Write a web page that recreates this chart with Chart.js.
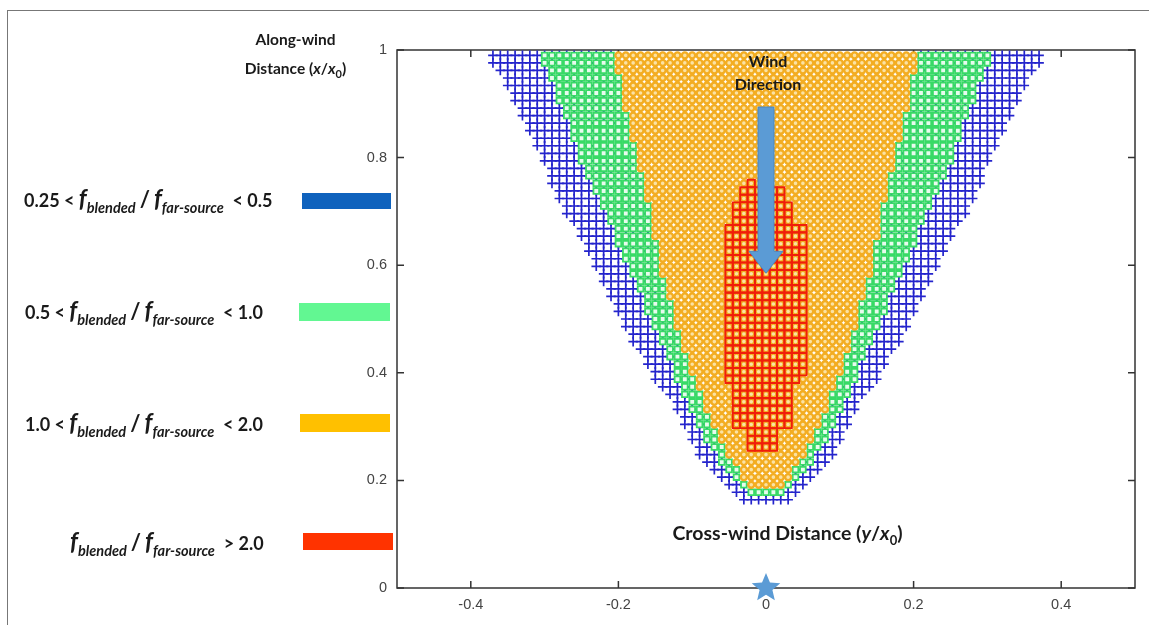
<!DOCTYPE html>
<html>
<head>
<meta charset="utf-8">
<script src="https://cdn.jsdelivr.net/npm/chart.js@4.4.0/dist/chart.umd.min.js"></script>
<style>
html, body { margin: 0; padding: 0; background: #fff; }
#wrap { position: relative; width: 1149px; height: 625px; overflow: hidden; }
#frame { position: absolute; left: 7px; top: 10px; right: -5px; bottom: -5px; border-left: 1px solid #777; border-top: 1px solid #777; }
#myChart { position: absolute; left: 0; top: 0; }
.lbl { position: absolute; font-family: Lato, "Open Sans", sans-serif; font-weight: bold; color: #1a1a1a; white-space: nowrap; }
.leg { font-size: 18px; line-height: 26px; }
.leg .f { font-size: 24px; font-style: italic; }
.leg sub { font-size: 14.5px; font-style: italic; vertical-align: -6px; line-height: 0; }
.leg .sl { font-size: 22px; padding: 0 4px; }
.sw { position: absolute; }
</style>
</head>
<body>
<div id="wrap">
  <div id="frame"></div>
  <canvas id="myChart" width="1149" height="625"></canvas>

  <div class="lbl" style="left:228px; top:25px; width:135px; text-align:center; font-size:15.5px; line-height:29px;">Along-wind<br>Distance (<i>x</i>/<i>x</i><sub style="font-size:11px;">0</sub>)</div>
  <div class="lbl" style="left:718px; top:49px; width:100px; text-align:center; font-size:16px; line-height:23px;">Wind<br>Direction</div>
  <div class="lbl" style="left:620px; top:521px; width:335px; text-align:center; font-size:19.5px;">Cross-wind Distance (<i>y</i>/<i>x</i><sub style="font-size:13px;">0</sub>)</div>

  <div class="lbl leg" style="left:24px; top:185px;">0.25 &lt; <span class="f">f</span><sub>blended</sub><span class="sl">/</span><span class="f">f</span><sub>far-source</sub>&nbsp; &lt; 0.5</div>
  <div class="lbl leg" style="left:25px; top:297px;">0.5 &lt; <span class="f">f</span><sub>blended</sub><span class="sl">/</span><span class="f">f</span><sub>far-source</sub>&nbsp; &lt; 1.0</div>
  <div class="lbl leg" style="left:25px; top:409px;">1.0 &lt; <span class="f">f</span><sub>blended</sub><span class="sl">/</span><span class="f">f</span><sub>far-source</sub>&nbsp; &lt; 2.0</div>
  <div class="lbl leg" style="left:70px; top:528px;"><span class="f">f</span><sub>blended</sub><span class="sl">/</span><span class="f">f</span><sub>far-source</sub>&nbsp; &gt; 2.0</div>

  <div class="sw" style="left:302px; top:193px; width:89px; height:16px; background:#0f62bd;"></div>
  <div class="sw" style="left:299px; top:303px; width:91px; height:18px; background:#62f792;"></div>
  <div class="sw" style="left:300px; top:414px; width:90px; height:18px; background:#ffc000;"></div>
  <div class="sw" style="left:303px; top:533px; width:90px; height:17px; background:#ff3300;"></div>
</div>

<script>
// axis ticks
const xTicks = [-0.4, -0.2, 0, 0.2, 0.4];
const yTicks = [0, 0.2, 0.4, 0.6, 0.8, 1];

// grid rows (along-wind distance x/x0); columns are cross-wind steps of 0.01
const colStep = 0.01;
const rowY = [0.990, 0.976, 0.962, 0.948, 0.934, 0.920, 0.906, 0.892, 0.878, 0.864,
              0.850, 0.836, 0.822, 0.808, 0.794, 0.780, 0.766, 0.752, 0.738, 0.724,
              0.710, 0.696, 0.682, 0.668, 0.654, 0.640, 0.626, 0.612, 0.598, 0.584,
              0.570, 0.556, 0.542, 0.528, 0.514, 0.500, 0.486, 0.472, 0.458, 0.444,
              0.430, 0.416, 0.402, 0.388, 0.374, 0.360, 0.346, 0.332, 0.318, 0.304,
              0.290, 0.276, 0.262, 0.248, 0.234, 0.220, 0.206, 0.192, 0.178, 0.164];

// half width of each band per row, in columns (null = band absent)
const blueHalf = [37, 37, 36, 35, 35, 34, 34, 33, 33, 32,
                  32, 31, 31, 30, 30, 29, 29, 29, 28, 28,
                  27, 27, 26, 25, 25, 24, 24, 23, 23, 22,
                  22, 21, 21, 20, 20, 19, 19, 18, 18, 17,
                  16, 16, 15, 15, 14, 13, 12, 12, 11, 11,
                  10, 10, 9, 9, 8, 7, 6, 5, 4, 3];
const greenHalf = [30, 30, 29, 29, 28, 28, 28, 27, 27, 26,
                   26, 26, 25, 25, 25, 24, 24, 23, 23, 22,
                   22, 21, 21, 20, 20, 20, 19, 19, 18, 18,
                   17, 17, 16, 16, 16, 15, 15, 14, 14, 13,
                   13, 12, 12, 12, 11, 11, 10, 10, 9, 9,
                   8, 8, 7, 6, 6, 5, 4, 3, 2, null];
const orangeHalf = [20, 20, 20, 19, 19, 19, 19, 19, 18, 18,
                    18, 18, 17, 17, 17, 17, 16, 16, 16, 16,
                    15, 15, 15, 15, 15, 14, 14, 14, 14, 14,
                    13, 13, 13, 12, 12, 12, 12, 11, 11, 11,
                    10, 10, 10, 9, 9, 8, 8, 8, 7, 7,
                    6, 6, 5, 5, 4, 3, 3, 2, null, null];
// red core: first and last column per row
const redLeft = [null, null, null, null, null, null, null, null, null, null,
                 null, null, null, null, null, null, null, -2, -3, -3,
                 -4, -4, -4, -5, -5, -5, -5, -5, -5, -5,
                 -5, -5, -5, -5, -5, -5, -5, -5, -5, -5,
                 -5, -5, -5, -5, -4, -4, -4, -4, -4, -4,
                 -2, -2, -2, null, null, null, null, null, null, null];
const redRight = [null, null, null, null, null, null, null, null, null, null,
                  null, null, null, null, null, null, null, -2, 2, 2,
                  3, 3, 3, 5, 5, 5, 5, 5, 5, 5,
                  5, 5, 5, 5, 5, 5, 5, 5, 5, 5,
                  5, 5, 5, 4, 3, 3, 3, 3, 3, 3,
                  1, 1, 1, null, null, null, null, null, null, null];

// source location and wind arrow (x/x0 from 0.894 down to 0.585)
const sourcePoint = [{x: 0, y: 0}];
const windArrow = {x: 0, from: 0.894, to: 0.585};

const bluePts = [], greenPts = [], orangePts = [], redPts = [];
rowY.forEach((y, i) => {
  const hb = blueHalf[i], hg = greenHalf[i], ho = orangeHalf[i];
  for (let k = -hb; k <= hb; k++) {
    const p = {x: k * colStep, y: y};
    if (ho !== null && Math.abs(k) <= ho) {
      orangePts.push(p);
    } else {
      bluePts.push(p);
      if (hg !== null && Math.abs(k) <= hg) greenPts.push(p);
    }
  }
  if (redLeft[i] !== null) {
    for (let k = redLeft[i]; k <= redRight[i]; k++) redPts.push({x: k * colStep, y: y});
  }
});

function makeStar(r, color) {
  const c = document.createElement('canvas');
  c.width = c.height = 2 * r + 2;
  const g = c.getContext('2d');
  g.beginPath();
  for (let i = 0; i < 10; i++) {
    const rad = i % 2 ? r * 0.45 : r;
    const a = -Math.PI / 2 + i * Math.PI / 5;
    g.lineTo(r + 1 + rad * Math.cos(a), r + 1 + rad * Math.sin(a));
  }
  g.closePath();
  g.fillStyle = color;
  g.fill();
  return c;
}

const boxPlugin = {
  id: 'box',
  beforeDatasetsDraw(chart) {
    const {ctx, chartArea: a, scales: {x, y}} = chart;
    ctx.save();
    ctx.strokeStyle = '#333';
    ctx.lineWidth = 1.5;
    ctx.strokeRect(a.left, a.top, a.right - a.left, a.bottom - a.top);
    ctx.beginPath();
    yTicks.forEach(v => {
      const p = y.getPixelForValue(v);
      ctx.moveTo(a.left, p); ctx.lineTo(a.left + 7, p);
      ctx.moveTo(a.right, p); ctx.lineTo(a.right - 7, p);
    });
    xTicks.forEach(v => {
      const p = x.getPixelForValue(v);
      ctx.moveTo(p, a.bottom); ctx.lineTo(p, a.bottom - 7);
      ctx.moveTo(p, a.top); ctx.lineTo(p, a.top + 7);
    });
    ctx.stroke();
    ctx.restore();
  },
  afterDatasetsDraw(chart) {
    const {ctx, scales: {x, y}} = chart;
    const cx = x.getPixelForValue(windArrow.x);
    const top = y.getPixelForValue(windArrow.from);
    const tip = y.getPixelForValue(windArrow.to);
    const headBase = tip - 22;
    ctx.save();
    ctx.beginPath();
    ctx.moveTo(cx - 8, top);
    ctx.lineTo(cx + 8, top);
    ctx.lineTo(cx + 8, headBase);
    ctx.lineTo(cx + 17, headBase);
    ctx.lineTo(cx, tip);
    ctx.lineTo(cx - 17, headBase);
    ctx.lineTo(cx - 8, headBase);
    ctx.closePath();
    ctx.fillStyle = '#5b9bd5';
    ctx.fill();
    ctx.strokeStyle = '#4a86bf';
    ctx.lineWidth = 1;
    ctx.stroke();
    ctx.restore();
  }
};

const ctx = document.getElementById('myChart').getContext('2d');
const myChart = new Chart(ctx, {
  type: 'scatter',
  data: {
    datasets: [
      {
        label: 'source',
        data: sourcePoint,
        pointStyle: makeStar(15, '#5b9bd5'),
        clip: false,
        order: 0
      },
      {
        label: 'f > 2.0',
        data: redPts,
        pointStyle: 'rect',
        pointRadius: 5.2,
        borderColor: '#f01e0a',
        backgroundColor: 'rgba(0,0,0,0)',
        borderWidth: 1.9,
        order: 1
      },
      {
        label: '1.0 < f < 2.0',
        data: orangePts,
        pointStyle: 'circle',
        pointRadius: 3,
        borderColor: '#f3ad22',
        backgroundColor: '#fbe2a4',
        borderWidth: 2.4,
        order: 2
      },
      {
        label: '0.5 < f < 1.0',
        data: greenPts,
        pointStyle: 'rect',
        pointRadius: 4,
        borderColor: '#38da66',
        backgroundColor: '#e8fbee',
        borderWidth: 1.8,
        order: 3
      },
      {
        label: '0.25 < f < 0.5',
        data: bluePts,
        pointStyle: 'cross',
        pointRadius: 4.8,
        borderColor: '#2424cc',
        borderWidth: 1.7,
        order: 4
      }
    ]
  },
  options: {
    responsive: false,
    animation: false,
    events: [],
    layout: { padding: { left: 0, top: 50, right: 14, bottom: 0 } },
    plugins: { legend: { display: false }, tooltip: { enabled: false } },
    scales: {
      x: {
        type: 'linear',
        min: -0.5,
        max: 0.5,
        afterBuildTicks: s => { s.ticks = xTicks.map(v => ({value: v})); },
        afterFit: s => { s.height = 37; },
        grid: { display: false, drawTicks: false },
        border: { display: false },
        ticks: {
          padding: 8,
          color: '#444',
          font: { family: 'Liberation Sans', size: 14.5 },
          callback: v => String(v)
        }
      },
      y: {
        type: 'linear',
        min: 0,
        max: 1,
        afterBuildTicks: s => { s.ticks = yTicks.map(v => ({value: v})); },
        afterFit: s => { s.width = 397; },
        grid: { display: false, drawTicks: false },
        border: { display: false },
        ticks: {
          padding: 10,
          color: '#444',
          font: { family: 'Liberation Sans', size: 14.5 },
          callback: v => String(v)
        }
      }
    }
  },
  plugins: [boxPlugin]
});
</script>
</body>
</html>
